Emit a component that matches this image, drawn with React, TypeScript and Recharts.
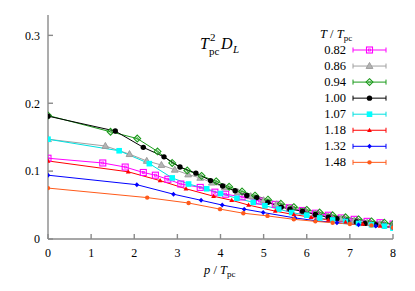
import { LineChart, Line, XAxis, YAxis } from "recharts";

type Pt = [number, number];

// T / T_pc values shown in the legend
const temps = ["0.82", "0.86", "0.94", "1.00", "1.07", "1.18", "1.32", "1.48"];

// (p / T_pc, T_pc^2 D_L)
const t082: Pt[] = [
  [0, 0.119], [1.27, 0.112], [1.79, 0.106], [2.21, 0.098], [2.49, 0.094], [2.78, 0.088],
  [3.08, 0.081], [3.53, 0.076], [3.87, 0.069], [4.12, 0.066], [4.5, 0.062], [4.9, 0.056],
  [5.27, 0.051], [5.6, 0.046], [5.9, 0.042], [6.2, 0.038], [6.5, 0.035], [6.8, 0.031],
  [7.1, 0.029], [7.4, 0.026], [7.7, 0.024], [8.0, 0.022],
];
const t086: Pt[] = [
  [0, 0.147], [1.33, 0.137], [1.89, 0.125], [2.29, 0.115], [2.63, 0.109], [2.94, 0.102],
  [3.25, 0.095], [3.53, 0.09], [3.8, 0.083], [4.1, 0.076], [4.4, 0.069], [4.7, 0.063],
  [5.0, 0.057], [5.3, 0.051], [5.6, 0.046], [5.9, 0.041], [6.2, 0.037], [6.5, 0.033],
  [6.8, 0.03], [7.1, 0.027], [7.4, 0.024], [7.7, 0.022], [8.0, 0.02],
];
const t094: Pt[] = [
  [0, 0.182], [1.45, 0.158], [2.07, 0.148], [2.54, 0.129], [2.88, 0.112], [3.23, 0.101],
  [3.56, 0.093], [3.9, 0.085], [4.2, 0.077], [4.5, 0.07], [4.8, 0.064], [5.1, 0.058],
  [5.4, 0.052], [5.7, 0.047], [6.0, 0.043], [6.3, 0.039], [6.6, 0.035], [6.9, 0.032],
  [7.2, 0.029], [7.5, 0.026], [7.8, 0.024], [8.0, 0.022],
];
const t100: Pt[] = [
  [0, 0.181], [1.56, 0.159], [2.21, 0.135], [2.69, 0.121], [3.06, 0.106], [3.43, 0.097],
  [3.77, 0.086], [4.05, 0.078], [4.34, 0.071], [4.61, 0.064], [4.84, 0.061], [5.1, 0.054],
  [5.41, 0.047], [5.61, 0.044], [5.9, 0.041], [6.2, 0.036], [6.5, 0.032], [6.7, 0.03],
  [6.93, 0.027], [7.15, 0.025], [7.35, 0.023], [7.6, 0.021], [7.8, 0.019], [8.0, 0.017],
];
const t107: Pt[] = [
  [0, 0.147], [1.65, 0.13], [2.35, 0.111], [2.88, 0.09], [3.26, 0.081], [3.68, 0.074],
  [4.0, 0.067], [4.38, 0.06], [4.76, 0.054], [5.03, 0.049], [5.35, 0.044], [5.65, 0.039],
  [6.0, 0.035], [6.3, 0.031], [6.6, 0.028], [6.9, 0.026], [7.2, 0.023], [7.5, 0.021],
  [7.8, 0.019], [8.0, 0.016],
];
const t118: Pt[] = [
  [0, 0.115], [1.86, 0.099], [2.6, 0.086], [3.2, 0.074], [3.84, 0.063], [4.26, 0.057],
  [4.65, 0.05], [5.27, 0.041], [5.7, 0.036], [6.1, 0.032], [6.5, 0.028], [6.9, 0.025],
  [7.3, 0.022], [7.7, 0.019], [8.0, 0.017],
];
const t132: Pt[] = [
  [0, 0.094], [2.06, 0.08], [2.91, 0.066], [3.55, 0.057], [4.04, 0.05], [4.55, 0.044],
  [4.99, 0.039], [5.73, 0.031], [6.2, 0.027], [6.7, 0.024], [7.2, 0.021], [7.6, 0.019],
  [8.0, 0.017],
];
const t148: Pt[] = [
  [0, 0.075], [2.3, 0.061], [3.26, 0.053], [3.99, 0.044], [4.53, 0.038], [5.09, 0.034],
  [5.7, 0.029], [6.2, 0.026], [6.6, 0.024], [7.0, 0.022], [7.5, 0.02], [8.0, 0.017],
];

const xTicks = [0, 1, 2, 3, 4, 5, 6, 7, 8];
const yTicks = [0, 0.1, 0.2, 0.3];

const seriesData = [t082, t086, t094, t100, t107, t118, t132, t148];

type Shape = "openSquare" | "triangle" | "openDiamond" | "circle" | "square" | "smallTriangle" | "smallDiamond" | "smallCircle";

const styles: { line: string; mark: string; shape: Shape }[] = [
  { line: "#ff00ff", mark: "#ff00ff", shape: "openSquare" },
  { line: "#a0a0a0", mark: "#999999", shape: "triangle" },
  { line: "#1a9a1a", mark: "#1a9a1a", shape: "openDiamond" },
  { line: "#000000", mark: "#000000", shape: "circle" },
  { line: "#00e0e0", mark: "#00ffff", shape: "square" },
  { line: "#ff0000", mark: "#ff0000", shape: "smallTriangle" },
  { line: "#0000ff", mark: "#0000ff", shape: "smallDiamond" },
  { line: "#ff5a1a", mark: "#ff5a1a", shape: "smallCircle" },
];

const FRAME = "#8a8a8a";
const SERIF = '"Liberation Serif", "Times New Roman", Times, serif';

function Marker({ shape, color, cx, cy }: { shape: Shape; color: string; cx: number; cy: number }) {
  switch (shape) {
    case "openSquare":
      return (
        <g>
          <rect x={cx - 3} y={cy - 3} width={6} height={6} fill="none" stroke={color} strokeWidth={1.1} />
          <rect x={cx - 1} y={cy - 1} width={2} height={2} fill="none" stroke={color} strokeWidth={0.8} />
        </g>
      );
    case "triangle":
      return (
        <polygon
          points={`${cx},${cy - 3.6} ${cx - 3.4},${cy + 2.4} ${cx + 3.4},${cy + 2.4}`}
          fill="#b4b4b4"
          stroke={color}
          strokeWidth={0.9}
        />
      );
    case "openDiamond":
      return (
        <g>
          <polygon
            points={`${cx},${cy - 3.4} ${cx + 3.4},${cy} ${cx},${cy + 3.4} ${cx - 3.4},${cy}`}
            fill="none"
            stroke={color}
            strokeWidth={1.1}
          />
          <polygon
            points={`${cx},${cy - 1.2} ${cx + 1.2},${cy} ${cx},${cy + 1.2} ${cx - 1.2},${cy}`}
            fill="none"
            stroke={color}
            strokeWidth={0.7}
          />
        </g>
      );
    case "circle":
      return <circle cx={cx} cy={cy} r={2.7} fill={color} />;
    case "square":
      return <rect x={cx - 2.8} y={cy - 2.8} width={5.6} height={5.6} fill={color} />;
    case "smallTriangle":
      return <polygon points={`${cx},${cy - 2.6} ${cx - 2.4},${cy + 1.7} ${cx + 2.4},${cy + 1.7}`} fill={color} />;
    case "smallDiamond":
      return <polygon points={`${cx},${cy - 2.5} ${cx + 2.3},${cy} ${cx},${cy + 2.5} ${cx - 2.3},${cy}`} fill={color} />;
    default:
      return <circle cx={cx} cy={cy} r={2.2} fill={color} />;
  }
}

const dotFor = (i: number) => (props: any) => (
  <Marker
    key={`d${i}-${props.index}`}
    shape={styles[i].shape}
    color={styles[i].mark}
    cx={props.cx}
    cy={props.cy}
  />
);

export default function App() {
  const tickStyle = { fontSize: 12, fill: "#000", style: { fontFamily: SERIF } };
  return (
    <div
      style={{
        position: "absolute",
        left: 0,
        top: 0,
        width: 415,
        height: 291,
        background: "#fff",
        fontFamily: SERIF,
      }}
    >
      <LineChart
        width={415}
        height={291}
        margin={{ top: 15, right: 22, bottom: 0, left: 0 }}
        style={{ fontFamily: SERIF }}
      >
        <XAxis
          xAxisId="b"
          type="number"
          dataKey="x"
          domain={[0, 8]}
          ticks={xTicks}
          height={52}
          tickSize={-5}
          tickMargin={14}
          tick={tickStyle}
          stroke={FRAME}
          strokeWidth={1.4}
          tickLine={{ stroke: FRAME }}
          allowDataOverflow
        />
        <XAxis
          xAxisId="t"
          orientation="top"
          type="number"
          domain={[0, 8]}
          ticks={xTicks}
          height={0}
          tickSize={-5}
          tickFormatter={() => ""}
          stroke={FRAME}
          strokeWidth={1.4}
          tickLine={{ stroke: FRAME }}
          allowDataOverflow
        />
        <YAxis
          yAxisId="l"
          type="number"
          domain={[0, 0.33]}
          ticks={yTicks}
          width={48}
          tickSize={-5}
          tickMargin={13}
          tick={tickStyle}
          tickFormatter={(v: number) => (v === 0 ? "0" : String(v))}
          stroke={FRAME}
          strokeWidth={1.4}
          tickLine={{ stroke: FRAME }}
          allowDataOverflow
        />
        <YAxis
          yAxisId="r"
          orientation="right"
          type="number"
          domain={[0, 0.33]}
          ticks={yTicks}
          width={0}
          tickSize={-5}
          tickFormatter={() => ""}
          stroke={FRAME}
          strokeWidth={1.4}
          tickLine={{ stroke: FRAME }}
          allowDataOverflow
        />
        {seriesData.map((pts, i) => (
          <Line
            key={temps[i]}
            xAxisId="b"
            yAxisId="l"
            data={pts.map(([x, y]) => ({ x, y }))}
            dataKey="y"
            stroke={styles[i].line}
            strokeWidth={1}
            dot={dotFor(i)}
            activeDot={false}
            isAnimationActive={false}
          />
        ))}
      </LineChart>
      <svg
        width={415}
        height={291}
        style={{ position: "absolute", left: 0, top: 0, pointerEvents: "none", fontFamily: SERIF }}
      >
        {/* title */}
        <text x={200} y={49} fontSize={16} fontStyle="italic">T</text>
        <text x={209} y={55} fontSize={11}>pc</text>
        <text x={210} y={41} fontSize={11}>2</text>
        <text x={221} y={49} fontSize={16} fontStyle="italic">D</text>
        <text x={233} y={53} fontSize={11} fontStyle="italic">L</text>
        {/* x label */}
        <text x={204} y={274} fontSize={12.5}>
          <tspan fontStyle="italic">p</tspan>
          <tspan> / </tspan>
          <tspan fontStyle="italic">T</tspan>
          <tspan fontSize={9} dy={3}>pc</tspan>
        </text>
        {/* legend */}
        <text x={320} y={38} fontSize={12.5}>
          <tspan fontStyle="italic">T</tspan>
          <tspan> / </tspan>
          <tspan fontStyle="italic">T</tspan>
          <tspan fontSize={9} dy={3}>pc</tspan>
        </text>
        {temps.map((t, i) => {
          const y = 50 + i * 16.05;
          return (
            <g key={t}>
              <text x={346} y={y + 4} fontSize={12.5} textAnchor="end">{t}</text>
              <line x1={353} x2={386} y1={y} y2={y} stroke={styles[i].line} strokeWidth={1} />
              <line x1={353} x2={353} y1={y - 2.5} y2={y + 2.5} stroke={styles[i].line} strokeWidth={1} />
              <line x1={386} x2={386} y1={y - 2.5} y2={y + 2.5} stroke={styles[i].line} strokeWidth={1} />
              <Marker shape={styles[i].shape} color={styles[i].mark} cx={369.5} cy={y} />
            </g>
          );
        })}
      </svg>
    </div>
  );
}
